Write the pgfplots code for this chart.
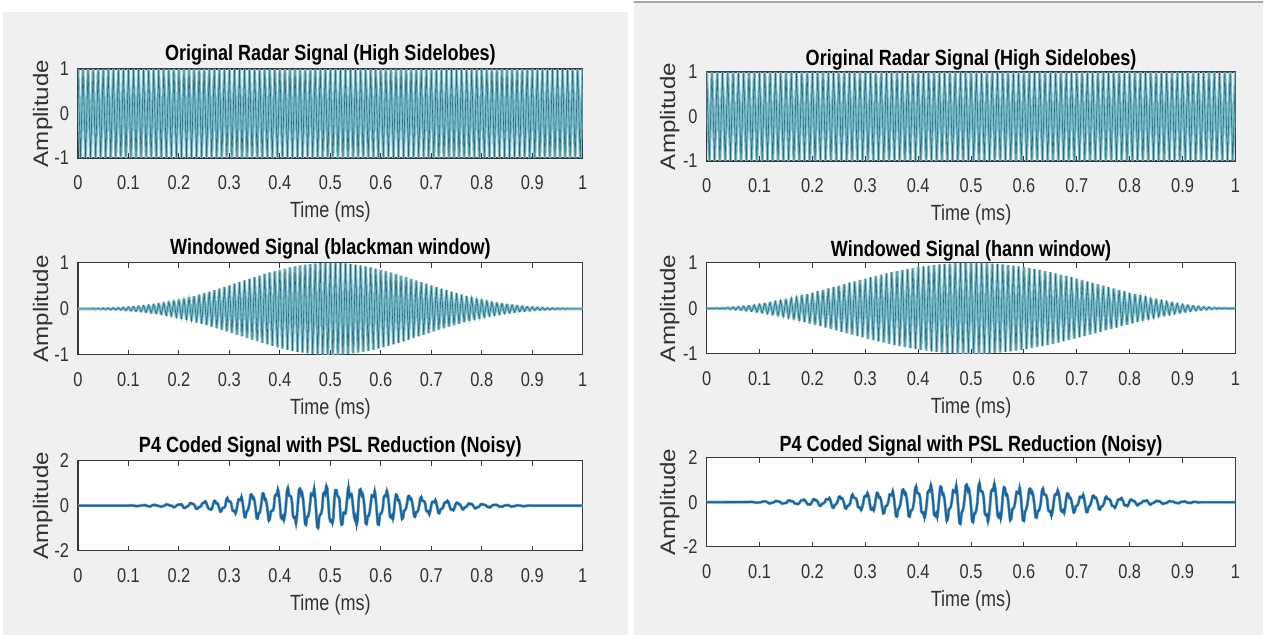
\documentclass[border=0pt]{standalone}
\usepackage{fontspec}
\setmainfont{Liberation Sans}[FakeStretch=0.82]
\newfontfamily\ylfont{Liberation Sans}[FakeStretch=1.15]
\usepackage{pgfplots}
\usepackage{pgfplotstable}
\pgfplotsset{compat=1.18}
\definecolor{figbg}{RGB}{240,240,240}
\definecolor{axgray}{RGB}{55,55,55}
\definecolor{lblgray}{RGB}{50,50,50}
\definecolor{siglight}{RGB}{125,190,202}
\definecolor{sigdark}{RGB}{42,105,130}
\definecolor{noiseblue}{RGB}{22,100,168}
\definecolor{noiseteal}{RGB}{120,170,182}

\pgfplotstableread{
x orig black hann
0 1 0 0
0.005 -1 -0.0001 -0.0002
0.01 1 0.0004 0.001
0.015 -1 -0.0008 -0.0022
0.02 1 0.0014 0.0039
0.025 -1 -0.0022 -0.0062
0.03 1 0.0032 0.0089
0.035 -1 -0.0044 -0.012
0.04 1 0.0058 0.0157
0.045 -1 -0.0074 -0.0199
0.05 1 0.0092 0.0245
0.055 -1 -0.0112 -0.0296
0.06 1 0.0134 0.0351
0.065 -1 -0.0159 -0.0411
0.07 1 0.0186 0.0476
0.075 -1 -0.0215 -0.0545
0.08 1 0.0247 0.0618
0.085 -1 -0.0282 -0.0696
0.09 1 0.0319 0.0778
0.095 -1 -0.0359 -0.0865
0.1 1 0.0402 0.0955
0.105 -1 -0.0448 -0.1049
0.11 1 0.0497 0.1147
0.115 -1 -0.055 -0.1249
0.12 1 0.0605 0.1355
0.125 -1 -0.0664 -0.1464
0.13 1 0.0727 0.1577
0.135 -1 -0.0793 -0.1693
0.14 1 0.0863 0.1813
0.145 -1 -0.0937 -0.1935
0.15 1 0.1014 0.2061
0.155 -1 -0.1095 -0.219
0.16 1 0.118 0.2321
0.165 -1 -0.1269 -0.2455
0.17 1 0.1363 0.2591
0.175 -1 -0.146 -0.273
0.18 1 0.1561 0.2871
0.185 -1 -0.1667 -0.3014
0.19 1 0.1776 0.3159
0.195 -1 -0.189 -0.3306
0.2 1 0.2008 0.3455
0.205 -1 -0.213 -0.3605
0.21 1 0.2256 0.3757
0.215 -1 -0.2385 -0.3909
0.22 1 0.2519 0.4063
0.225 -1 -0.2657 -0.4218
0.23 1 0.2798 0.4373
0.235 -1 -0.2944 -0.4529
0.24 1 0.3092 0.4686
0.245 -1 -0.3245 -0.4843
0.25 1 0.34 0.5
0.255 -1 -0.3559 -0.5157
0.26 1 0.372 0.5314
0.265 -1 -0.3885 -0.5471
0.27 1 0.4052 0.5627
0.275 -1 -0.4221 -0.5782
0.28 1 0.4393 0.5937
0.285 -1 -0.4567 -0.6091
0.29 1 0.4742 0.6243
0.295 -1 -0.4919 -0.6395
0.3 1 0.5098 0.6545
0.305 -1 -0.5277 -0.6694
0.31 1 0.5457 0.6841
0.315 -1 -0.5638 -0.6986
0.32 1 0.5819 0.7129
0.325 -1 -0.6 -0.727
0.33 1 0.618 0.7409
0.335 -1 -0.636 -0.7545
0.34 1 0.6539 0.7679
0.345 -1 -0.6716 -0.781
0.35 1 0.6892 0.7939
0.355 -1 -0.7066 -0.8065
0.36 1 0.7237 0.8187
0.365 -1 -0.7406 -0.8307
0.37 1 0.7573 0.8423
0.375 -1 -0.7736 -0.8536
0.38 1 0.7895 0.8645
0.385 -1 -0.8051 -0.8751
0.39 1 0.8202 0.8853
0.395 -1 -0.835 -0.8951
0.4 1 0.8492 0.9045
0.405 -1 -0.863 -0.9135
0.41 1 0.8762 0.9222
0.415 -1 -0.8889 -0.9304
0.42 1 0.901 0.9382
0.425 -1 -0.9125 -0.9455
0.43 1 0.9234 0.9524
0.435 -1 -0.9336 -0.9589
0.44 1 0.9432 0.9649
0.445 -1 -0.9521 -0.9704
0.45 1 0.9603 0.9755
0.455 -1 -0.9677 -0.9801
0.46 1 0.9744 0.9843
0.465 -1 -0.9803 -0.988
0.47 1 0.9855 0.9911
0.475 -1 -0.9899 -0.9938
0.48 1 0.9935 0.9961
0.485 -1 -0.9964 -0.9978
0.49 1 0.9984 0.999
0.495 -1 -0.9996 -0.9998
0.5 1 1 1
0.505 -1 -0.9996 -0.9998
0.51 1 0.9984 0.999
0.515 -1 -0.9964 -0.9978
0.52 1 0.9935 0.9961
0.525 -1 -0.9899 -0.9938
0.53 1 0.9855 0.9911
0.535 -1 -0.9803 -0.988
0.54 1 0.9744 0.9843
0.545 -1 -0.9677 -0.9801
0.55 1 0.9603 0.9755
0.555 -1 -0.9521 -0.9704
0.56 1 0.9432 0.9649
0.565 -1 -0.9336 -0.9589
0.57 1 0.9234 0.9524
0.575 -1 -0.9125 -0.9455
0.58 1 0.901 0.9382
0.585 -1 -0.8889 -0.9304
0.59 1 0.8762 0.9222
0.595 -1 -0.863 -0.9135
0.6 1 0.8492 0.9045
0.605 -1 -0.835 -0.8951
0.61 1 0.8202 0.8853
0.615 -1 -0.8051 -0.8751
0.62 1 0.7895 0.8645
0.625 -1 -0.7736 -0.8536
0.63 1 0.7573 0.8423
0.635 -1 -0.7406 -0.8307
0.64 1 0.7237 0.8187
0.645 -1 -0.7066 -0.8065
0.65 1 0.6892 0.7939
0.655 -1 -0.6716 -0.781
0.66 1 0.6539 0.7679
0.665 -1 -0.636 -0.7545
0.67 1 0.618 0.7409
0.675 -1 -0.6 -0.727
0.68 1 0.5819 0.7129
0.685 -1 -0.5638 -0.6986
0.69 1 0.5457 0.6841
0.695 -1 -0.5277 -0.6694
0.7 1 0.5098 0.6545
0.705 -1 -0.4919 -0.6395
0.71 1 0.4742 0.6243
0.715 -1 -0.4567 -0.6091
0.72 1 0.4393 0.5937
0.725 -1 -0.4221 -0.5782
0.73 1 0.4052 0.5627
0.735 -1 -0.3885 -0.5471
0.74 1 0.372 0.5314
0.745 -1 -0.3559 -0.5157
0.75 1 0.34 0.5
0.755 -1 -0.3245 -0.4843
0.76 1 0.3092 0.4686
0.765 -1 -0.2944 -0.4529
0.77 1 0.2798 0.4373
0.775 -1 -0.2657 -0.4218
0.78 1 0.2519 0.4063
0.785 -1 -0.2385 -0.3909
0.79 1 0.2256 0.3757
0.795 -1 -0.213 -0.3605
0.8 1 0.2008 0.3455
0.805 -1 -0.189 -0.3306
0.81 1 0.1776 0.3159
0.815 -1 -0.1667 -0.3014
0.82 1 0.1561 0.2871
0.825 -1 -0.146 -0.273
0.83 1 0.1363 0.2591
0.835 -1 -0.1269 -0.2455
0.84 1 0.118 0.2321
0.845 -1 -0.1095 -0.219
0.85 1 0.1014 0.2061
0.855 -1 -0.0937 -0.1935
0.86 1 0.0863 0.1813
0.865 -1 -0.0793 -0.1693
0.87 1 0.0727 0.1577
0.875 -1 -0.0664 -0.1464
0.88 1 0.0605 0.1355
0.885 -1 -0.055 -0.1249
0.89 1 0.0497 0.1147
0.895 -1 -0.0448 -0.1049
0.9 1 0.0402 0.0955
0.905 -1 -0.0359 -0.0865
0.91 1 0.0319 0.0778
0.915 -1 -0.0282 -0.0696
0.92 1 0.0247 0.0618
0.925 -1 -0.0215 -0.0545
0.93 1 0.0186 0.0476
0.935 -1 -0.0159 -0.0411
0.94 1 0.0134 0.0351
0.945 -1 -0.0112 -0.0296
0.95 1 0.0092 0.0245
0.955 -1 -0.0074 -0.0199
0.96 1 0.0058 0.0157
0.965 -1 -0.0044 -0.012
0.97 1 0.0032 0.0089
0.975 -1 -0.0022 -0.0062
0.98 1 0.0014 0.0039
0.985 -1 -0.0008 -0.0022
0.99 1 0.0004 0.001
0.995 -1 -0.0001 -0.0002
1 1 0 0
}\sigtable

\pgfplotstableread{
x y
0 0
0.100 0.00
0.102 0.01
0.104 0.02
0.106 0.01
0.108 0.01
0.110 0.00
0.112 0.00
0.114 -0.01
0.116 -0.02
0.118 -0.01
0.120 -0.01
0.122 0.00
0.124 0.00
0.126 0.01
0.128 0.02
0.130 0.02
0.132 0.03
0.134 0.02
0.136 0.00
0.138 -0.01
0.140 -0.02
0.142 -0.03
0.144 -0.02
0.146 0.00
0.148 0.02
0.150 0.04
0.152 0.04
0.154 0.02
0.156 0.02
0.158 0.01
0.160 -0.02
0.162 -0.02
0.164 -0.04
0.166 -0.04
0.168 -0.02
0.170 0.00
0.172 0.00
0.174 0.05
0.176 0.06
0.178 0.04
0.180 0.04
0.182 0.00
0.184 0.01
0.186 0.00
0.188 -0.04
0.190 -0.07
0.192 -0.06
0.194 -0.01
0.196 0.01
0.198 0.05
0.200 0.05
0.202 0.04
0.204 0.08
0.206 0.04
0.208 -0.03
0.210 -0.10
0.212 -0.10
0.214 -0.05
0.216 -0.04
0.218 -0.02
0.220 0.03
0.222 0.12
0.224 0.12
0.226 0.08
0.228 0.09
0.230 0.05
0.232 -0.03
0.234 -0.13
0.236 -0.14
0.238 -0.08
0.240 -0.08
0.242 -0.03
0.244 -0.02
0.246 0.10
0.248 0.13
0.250 0.12
0.252 0.20
0.254 0.14
0.256 0.02
0.258 -0.10
0.260 -0.15
0.262 -0.13
0.264 -0.18
0.266 -0.10
0.268 0.09
0.270 0.22
0.272 0.21
0.274 0.10
0.276 0.12
0.278 0.03
0.280 -0.12
0.282 -0.27
0.284 -0.24
0.286 -0.11
0.288 -0.09
0.290 -0.08
0.292 0.00
0.294 0.28
0.296 0.36
0.298 0.20
0.300 0.20
0.302 0.18
0.304 0.08
0.306 -0.20
0.308 -0.24
0.310 -0.22
0.312 -0.36
0.314 -0.20
0.316 0.05
0.318 0.29
0.320 0.26
0.322 0.24
0.324 0.42
0.326 0.18
0.328 -0.16
0.330 -0.50
0.332 -0.52
0.334 -0.26
0.336 -0.21
0.338 -0.09
0.340 0.13
0.342 0.48
0.344 0.51
0.346 0.32
0.348 0.38
0.350 0.19
0.352 -0.13
0.354 -0.55
0.356 -0.58
0.358 -0.32
0.360 -0.32
0.362 -0.11
0.364 0.22
0.366 0.55
0.368 0.52
0.370 0.26
0.372 0.30
0.374 0.07
0.376 -0.30
0.378 -0.67
0.380 -0.59
0.382 -0.26
0.384 -0.22
0.386 -0.22
0.388 -0.08
0.390 0.42
0.392 0.50
0.394 0.46
0.396 0.75
0.398 0.50
0.400 0.08
0.402 -0.50
0.404 -0.58
0.406 -0.45
0.408 -0.66
0.410 -0.41
0.412 0.00
0.414 0.63
0.416 0.81
0.418 0.45
0.420 0.45
0.422 0.41
0.424 0.18
0.426 -0.45
0.428 -0.54
0.430 -0.50
0.432 -0.81
0.434 -0.40
0.436 0.19
0.438 0.72
0.440 0.77
0.442 0.48
0.444 0.58
0.446 0.29
0.448 -0.19
0.450 -0.81
0.452 -0.86
0.454 -0.48
0.456 -0.48
0.458 -0.29
0.460 0.10
0.462 0.55
0.464 0.50
0.466 0.45
0.468 0.80
0.470 0.35
0.472 -0.30
0.474 -0.95
0.476 -1.00
0.478 -0.50
0.480 -0.40
0.482 -0.35
0.484 -0.10
0.486 0.55
0.488 0.60
0.490 0.50
0.492 0.90
0.494 0.75
0.496 0.10
0.498 -0.50
0.500 -0.70
0.502 -0.65
0.504 -0.80
0.506 -0.55
0.508 0.30
0.510 0.70
0.512 0.70
0.514 0.45
0.516 0.40
0.518 0.30
0.520 -0.40
0.522 -0.85
0.524 -0.80
0.526 -0.30
0.528 -0.30
0.530 -0.35
0.532 0.00
0.534 0.53
0.536 0.87
0.538 0.39
0.540 0.49
0.542 0.53
0.544 0.19
0.546 -0.29
0.548 -0.58
0.550 -0.44
0.552 -0.87
0.554 -0.59
0.556 0.18
0.558 0.69
0.560 0.74
0.562 0.46
0.564 0.55
0.566 0.28
0.568 -0.18
0.570 -0.78
0.572 -0.83
0.574 -0.46
0.576 -0.46
0.578 -0.28
0.580 0.09
0.582 0.47
0.584 0.43
0.586 0.39
0.588 0.68
0.590 0.30
0.592 -0.26
0.594 -0.81
0.596 -0.85
0.598 -0.43
0.600 -0.34
0.602 -0.29
0.604 -0.08
0.606 0.38
0.608 0.46
0.610 0.42
0.612 0.68
0.614 0.46
0.616 0.08
0.618 -0.46
0.620 -0.53
0.622 -0.42
0.624 -0.61
0.626 -0.28
0.628 0.20
0.630 0.50
0.632 0.46
0.634 0.23
0.636 0.26
0.638 0.07
0.640 -0.26
0.642 -0.60
0.644 -0.53
0.646 -0.23
0.648 -0.20
0.650 -0.11
0.652 0.11
0.654 0.41
0.656 0.44
0.658 0.28
0.660 0.33
0.662 0.17
0.664 -0.11
0.666 -0.47
0.668 -0.50
0.670 -0.28
0.672 -0.28
0.674 -0.20
0.676 0.00
0.678 0.31
0.680 0.40
0.682 0.22
0.684 0.22
0.686 0.20
0.688 0.09
0.690 -0.22
0.692 -0.26
0.694 -0.24
0.696 -0.40
0.698 -0.23
0.700 0.03
0.702 0.18
0.704 0.17
0.706 0.15
0.708 0.27
0.710 0.12
0.712 -0.10
0.714 -0.32
0.716 -0.34
0.718 -0.17
0.720 -0.14
0.722 -0.12
0.724 -0.03
0.726 0.13
0.728 0.16
0.730 0.14
0.732 0.23
0.734 0.16
0.736 0.03
0.738 -0.15
0.740 -0.18
0.742 -0.15
0.744 -0.21
0.746 -0.10
0.748 0.06
0.750 0.14
0.752 0.13
0.754 0.07
0.756 0.08
0.758 0.02
0.760 -0.08
0.762 -0.17
0.764 -0.15
0.766 -0.07
0.768 -0.06
0.770 -0.03
0.772 0.03
0.774 0.10
0.776 0.10
0.778 0.06
0.780 0.08
0.782 0.04
0.784 -0.03
0.786 -0.11
0.788 -0.12
0.790 -0.07
0.792 -0.07
0.794 -0.05
0.796 0.00
0.798 0.06
0.800 0.08
0.802 0.05
0.804 0.05
0.806 0.04
0.808 0.02
0.810 -0.04
0.812 -0.05
0.814 -0.05
0.816 -0.08
0.818 -0.05
0.820 -0.01
0.822 0.03
0.824 0.04
0.826 0.03
0.828 0.05
0.830 0.03
0.832 0.01
0.834 -0.03
0.836 -0.04
0.838 -0.03
0.840 -0.05
0.842 -0.03
0.844 0.00
0.846 0.02
0.848 0.02
0.850 0.02
0.852 0.03
0.854 0.01
0.856 -0.01
0.858 -0.03
0.860 -0.04
0.862 -0.02
0.864 -0.02
0.866 -0.01
0.868 0.01
0.870 0.02
0.872 0.02
0.874 0.01
0.876 0.01
0.878 0.00
0.880 -0.01
0.882 -0.02
0.884 -0.02
0.886 -0.01
0.888 -0.01
0.890 0.00
0.892 0.00
0.894 0.01
0.896 0.01
0.898 0.00
0.900 0.00
1 0
}\noisyleft

\pgfplotstableread{
x y
0 0
0.080 0.01
0.082 0.02
0.084 0.02
0.086 0.01
0.088 0.01
0.090 0.00
0.092 -0.01
0.094 -0.02
0.096 -0.02
0.098 -0.01
0.100 -0.01
0.102 0.00
0.104 0.01
0.106 0.03
0.108 0.03
0.110 0.03
0.112 0.04
0.114 0.01
0.116 -0.02
0.118 -0.05
0.120 -0.05
0.122 -0.03
0.124 -0.02
0.126 -0.01
0.128 0.01
0.130 0.05
0.132 0.06
0.134 0.04
0.136 0.04
0.138 0.02
0.140 -0.01
0.142 -0.05
0.144 -0.06
0.146 -0.04
0.148 -0.04
0.150 -0.03
0.152 0.00
0.154 0.07
0.156 0.09
0.158 0.05
0.160 0.05
0.162 0.05
0.164 0.02
0.166 -0.05
0.168 -0.06
0.170 -0.06
0.172 -0.09
0.174 -0.06
0.176 -0.01
0.178 0.07
0.180 0.08
0.182 0.08
0.184 0.13
0.186 0.08
0.188 0.01
0.190 -0.07
0.192 -0.10
0.194 -0.08
0.196 -0.11
0.198 -0.04
0.200 0.06
0.202 0.14
0.204 0.13
0.206 0.07
0.208 0.08
0.210 0.02
0.212 -0.08
0.214 -0.17
0.216 -0.15
0.218 -0.07
0.220 -0.06
0.222 -0.03
0.224 0.03
0.226 0.14
0.228 0.13
0.230 0.12
0.232 0.20
0.234 0.09
0.236 -0.08
0.238 -0.24
0.240 -0.25
0.242 -0.13
0.244 -0.10
0.246 -0.05
0.248 0.06
0.250 0.24
0.252 0.26
0.254 0.16
0.256 0.19
0.258 0.10
0.260 -0.06
0.262 -0.27
0.264 -0.29
0.266 -0.16
0.268 -0.16
0.270 -0.11
0.272 0.00
0.274 0.28
0.276 0.36
0.278 0.20
0.280 0.20
0.282 0.18
0.284 0.08
0.286 -0.20
0.288 -0.24
0.290 -0.22
0.292 -0.36
0.294 -0.24
0.296 -0.05
0.298 0.24
0.300 0.29
0.302 0.26
0.304 0.43
0.306 0.29
0.308 0.05
0.310 -0.29
0.312 -0.34
0.314 -0.26
0.316 -0.38
0.318 -0.15
0.320 0.17
0.322 0.43
0.324 0.40
0.326 0.20
0.328 0.23
0.330 0.06
0.332 -0.23
0.334 -0.51
0.336 -0.46
0.338 -0.20
0.340 -0.17
0.342 -0.11
0.344 0.07
0.346 0.36
0.348 0.33
0.350 0.30
0.352 0.52
0.354 0.23
0.356 -0.20
0.358 -0.62
0.360 -0.65
0.362 -0.33
0.364 -0.26
0.366 -0.12
0.368 0.15
0.370 0.55
0.372 0.58
0.374 0.36
0.376 0.44
0.378 0.22
0.380 -0.15
0.382 -0.62
0.384 -0.66
0.386 -0.37
0.388 -0.37
0.390 -0.26
0.392 0.00
0.394 0.57
0.396 0.73
0.398 0.41
0.400 0.41
0.402 0.37
0.404 0.16
0.406 -0.41
0.408 -0.49
0.410 -0.45
0.412 -0.73
0.414 -0.49
0.416 -0.09
0.418 0.44
0.420 0.53
0.422 0.48
0.424 0.79
0.426 0.53
0.428 0.09
0.430 -0.53
0.432 -0.62
0.434 -0.48
0.436 -0.70
0.438 -0.30
0.440 0.28
0.442 0.71
0.444 0.66
0.446 0.33
0.448 0.38
0.450 0.09
0.452 -0.38
0.454 -0.85
0.456 -0.75
0.458 -0.33
0.460 -0.28
0.462 -0.18
0.464 0.10
0.466 0.54
0.468 0.49
0.470 0.44
0.472 0.78
0.474 0.34
0.476 -0.29
0.478 -0.93
0.480 -0.98
0.482 -0.49
0.484 -0.39
0.486 -0.19
0.488 0.20
0.490 0.75
0.492 0.80
0.494 0.50
0.496 0.60
0.498 0.30
0.500 -0.20
0.502 -0.85
0.504 -0.90
0.506 -0.50
0.508 -0.50
0.510 -0.35
0.512 0.00
0.514 0.70
0.516 0.89
0.518 0.50
0.520 0.50
0.522 0.45
0.524 0.20
0.526 -0.49
0.528 -0.59
0.530 -0.54
0.532 -0.89
0.534 -0.60
0.536 -0.10
0.538 0.48
0.540 0.58
0.542 0.53
0.544 0.86
0.546 0.58
0.548 0.10
0.550 -0.58
0.552 -0.67
0.554 -0.53
0.556 -0.77
0.558 -0.35
0.560 0.27
0.562 0.68
0.564 0.64
0.566 0.32
0.568 0.36
0.570 0.09
0.572 -0.36
0.574 -0.82
0.576 -0.73
0.578 -0.32
0.580 -0.27
0.582 -0.18
0.584 0.09
0.586 0.47
0.588 0.43
0.590 0.39
0.592 0.68
0.594 0.30
0.596 -0.26
0.598 -0.81
0.600 -0.85
0.602 -0.43
0.604 -0.34
0.606 -0.17
0.608 0.16
0.610 0.59
0.612 0.62
0.614 0.39
0.616 0.47
0.618 0.24
0.620 -0.16
0.622 -0.66
0.624 -0.70
0.626 -0.39
0.628 -0.39
0.630 -0.27
0.632 0.00
0.634 0.49
0.636 0.63
0.638 0.35
0.640 0.35
0.642 0.32
0.644 0.14
0.646 -0.35
0.648 -0.42
0.650 -0.39
0.652 -0.63
0.654 -0.42
0.656 -0.06
0.658 0.31
0.660 0.37
0.662 0.34
0.664 0.56
0.666 0.37
0.668 0.06
0.670 -0.37
0.672 -0.43
0.674 -0.34
0.676 -0.50
0.678 -0.23
0.680 0.16
0.682 0.40
0.684 0.37
0.686 0.18
0.688 0.21
0.690 0.05
0.692 -0.21
0.694 -0.47
0.696 -0.42
0.698 -0.18
0.700 -0.16
0.702 -0.11
0.704 0.05
0.706 0.25
0.708 0.23
0.710 0.21
0.712 0.36
0.714 0.16
0.716 -0.14
0.718 -0.43
0.720 -0.45
0.722 -0.23
0.724 -0.18
0.726 -0.10
0.728 0.07
0.730 0.28
0.732 0.30
0.734 0.19
0.736 0.22
0.738 0.11
0.740 -0.07
0.742 -0.31
0.744 -0.33
0.746 -0.19
0.748 -0.19
0.750 -0.13
0.752 0.00
0.754 0.20
0.756 0.26
0.758 0.15
0.760 0.15
0.762 0.13
0.764 0.06
0.766 -0.14
0.768 -0.17
0.770 -0.16
0.772 -0.26
0.774 -0.17
0.776 -0.02
0.778 0.11
0.780 0.13
0.782 0.12
0.784 0.20
0.786 0.13
0.788 0.02
0.790 -0.13
0.792 -0.15
0.794 -0.12
0.796 -0.18
0.798 -0.08
0.800 0.05
0.802 0.12
0.804 0.11
0.806 0.06
0.808 0.06
0.810 0.02
0.812 -0.06
0.814 -0.14
0.816 -0.13
0.818 -0.06
0.820 -0.05
0.822 -0.04
0.824 0.01
0.826 0.06
0.828 0.06
0.830 0.05
0.832 0.09
0.834 0.04
0.836 -0.03
0.838 -0.10
0.840 -0.11
0.842 -0.05
0.844 -0.04
0.846 -0.02
0.848 0.02
0.850 0.06
0.852 0.06
0.854 0.04
0.856 0.05
0.858 0.02
0.860 -0.02
0.862 -0.07
0.864 -0.07
0.866 -0.04
0.868 -0.04
0.870 -0.03
0.872 0.00
0.874 0.04
0.876 0.05
0.878 0.03
0.880 0.03
0.882 0.03
0.884 0.01
0.886 -0.02
0.888 -0.03
0.890 -0.03
0.892 -0.05
0.894 -0.03
0.896 0.00
0.898 0.02
0.900 0.02
0.902 0.02
0.904 0.04
0.906 0.02
0.908 0.00
0.910 -0.02
0.912 -0.03
0.914 -0.02
0.916 -0.03
0.918 -0.01
0.920 0.01
0.922 0.02
0.924 0.02
0.926 0.01
0.928 0.00
0.930 -0.01
0.932 -0.01
0.934 0.00
0.936 0.00
1 0
}\noisyright

\pgfplotsset{
  mstyle/.style={
    scale only axis,
    anchor=south west,
    xmin=0, xmax=1,
    xtick={0,0.1,0.2,0.3,0.4,0.5,0.6,0.7,0.8,0.9,1},
    xticklabels={0,0.1,0.2,0.3,0.4,0.5,0.6,0.7,0.8,0.9,1},
    tick align=inside,
    major tick length=2.5pt,
    axis line style={draw=axgray, line width=0.6pt},
    every tick/.style={draw=axgray, line width=0.5pt},
    axis background/.style={fill=white},
    tick label style={font=\fontsize{10}{12}\selectfont, text=lblgray},
    /pgf/number format/assume math mode=true,
    xticklabel style={anchor=base, yshift=-16pt},
    yticklabel style={anchor=east, xshift=-1pt},
    xlabel={Time (ms)},
    ylabel={Amplitude},
    xlabel style={at={(axis description cs:0.5,0)}, anchor=center, yshift=-27pt, font=\fontsize{11}{13}\selectfont, text=lblgray},
    ylabel style={at={(axis description cs:-0.07,0.5)}, anchor=center, font=\ylfont\fontsize{10.5}{12}\selectfont, text=lblgray},
    title style={at={(axis description cs:0.5,1)}, anchor=center, font=\bfseries\fontsize{11}{13}\selectfont, text=black},
  },
  lefttitle/.style={title style={yshift=1pt}},
  righttitle/.style={title style={yshift=0pt}},
  siglight/.style={draw=siglight, line width=1.5pt, no markers, line join=bevel},
  sigdark/.style={draw=sigdark, line width=0.3pt, no markers},
  noisyhalo/.style={draw=noiseteal, line width=1.5pt, no markers, line join=bevel},
  noisy/.style={draw=noiseblue, line width=0.9pt, no markers},
}

\begin{document}
\begin{tikzpicture}
\fill[white] (0,0) rectangle (632pt,317.5pt);
\fill[figbg] (1.5pt,0) rectangle (314pt,311.5pt);
\fill[figbg] (317pt,0) rectangle (632pt,316pt);
\draw[gray!70, line width=0.6pt] (317pt,316.5pt) -- (632pt,316.5pt);

% ---------- left column ----------
\begin{axis}[mstyle, lefttitle, at={(39pt,238.5pt)}, width=252.5pt, height=44.5pt,
  ymin=-1, ymax=1, ytick={-1,0,1},
  title={Original Radar Signal (High Sidelobes)}]
\addplot[siglight] table[x=x, y=orig] {\sigtable};
\addplot[sigdark] table[x=x, y=orig] {\sigtable};
\end{axis}

\begin{axis}[mstyle, lefttitle, at={(39pt,140pt)}, width=252.5pt, height=46pt,
  ymin=-1, ymax=1, ytick={-1,0,1},
  title={Windowed Signal (blackman window)}]
\addplot[siglight] table[x=x, y=black] {\sigtable};
\addplot[sigdark] table[x=x, y=black] {\sigtable};
\end{axis}

\begin{axis}[mstyle, lefttitle, at={(39pt,42pt)}, width=252.5pt, height=45pt,
  ymin=-2, ymax=2, ytick={-2,0,2},
  title={P4 Coded Signal with PSL Reduction (Noisy)}]
\addplot[noisyhalo] table[x=x, y=y] {\noisyleft};
\addplot[noisy] table[x=x, y=y] {\noisyleft};
\end{axis}

% ---------- right column ----------
\begin{axis}[mstyle, righttitle, at={(353.5pt,237pt)}, width=264.5pt, height=44.5pt,
  ymin=-1, ymax=1, ytick={-1,0,1},
  title={Original Radar Signal (High Sidelobes)}]
\addplot[siglight] table[x=x, y=orig] {\sigtable};
\addplot[sigdark] table[x=x, y=orig] {\sigtable};
\end{axis}

\begin{axis}[mstyle, righttitle, at={(353.5pt,140.5pt)}, width=264.5pt, height=45.5pt,
  ymin=-1, ymax=1, ytick={-1,0,1},
  title={Windowed Signal (hann window)}]
\addplot[siglight] table[x=x, y=hann] {\sigtable};
\addplot[sigdark] table[x=x, y=hann] {\sigtable};
\end{axis}

\begin{axis}[mstyle, righttitle, at={(353.5pt,44pt)}, width=264.5pt, height=44.5pt,
  ymin=-2, ymax=2, ytick={-2,0,2},
  title={P4 Coded Signal with PSL Reduction (Noisy)}]
\addplot[noisyhalo] table[x=x, y=y] {\noisyright};
\addplot[noisy] table[x=x, y=y] {\noisyright};
\end{axis}
\end{tikzpicture}
\end{document}
